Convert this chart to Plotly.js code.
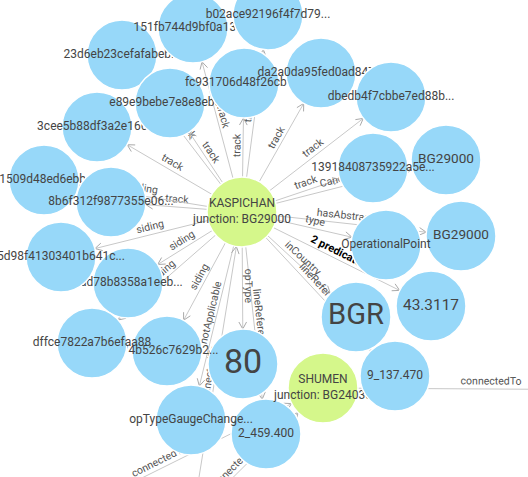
<!DOCTYPE html>
<html>
<head>
<meta charset="utf-8">
<script src="https://cdn.plot.ly/plotly-3.0.1.min.js"></script>
<style>
    html, body { margin: 0; padding: 0; background: #fff; }
    #graph { width: 528px; height: 477px; }
</style>
</head>
<body>
<div id="graph"></div>
<script>
(function () {
    'use strict';

    // nodes in drawing order, later ones cover the earlier ones
    var nodeIds = ['offA', 'offB', 'offC', 'offD',
        'n23d6', 'n151f', 'nb02a', 'n3cee', 'ne89e', 'nfc93', 'nda2a', 'ndbed',
        'bgUpper', 'n1391', 'bgLower', 'opPoint', 'lat', 'bgr',
        'n0150', 'n8b6f', 'nad78', 'n5d98', 'op80', 'ne74b', 'ndffc',
        'km2', 'gaugeChange', 'shumen', 'km9', 'kaspichan'];

    var nodeLabels = ['', '', '', '',
        '23d6eb23cefafabeb...', '151fb744d9bf0a13d...', 'b02ace92196f4f7d79...',
        '3cee5b88df3a2e166...', 'e89e9bebe7e8e8eb0...', 'fc931706d48f26cb9...',
        'da2a0da95fed0ad847...', 'dbedb4f7cbbe7ed88b...',
        'BG29000', '13918408735922a5e...', 'BG29000', 'OperationalPoint', '43.3117', 'BGR',
        '01509d48ed6ebb...', '8b6f312f9877355e06...', 'bad78b8358a1eeb...', '5d98f41303401b641c...',
        '80', 'e74b526c7629b2...', 'dffce7822a7b6efaa88',
        '2_459.400', 'opTypeGaugeChange...', 'SHUMEN<br>junction: BG24030', '9_137.470',
        'KASPICHAN<br>junction: BG29000'];

    var nodeKinds = ['iri', 'iri', 'iri', 'iri',
        'iri', 'iri', 'iri', 'iri', 'iri', 'iri', 'iri', 'iri',
        'literal', 'iri', 'literal', 'iri', 'literal', 'literal',
        'iri', 'iri', 'iri', 'iri', 'literal', 'iri', 'iri',
        'literal', 'iri', 'junction', 'literal', 'junction'];

    // where the force layout left each node (screen pixels, first four are outside the window)
    var nodeX = [188, 1, 150, 659,
        122, 193, 268, 97, 170, 244, 321, 391,
        446, 373, 461, 386, 431, 356,
        44, 111, 128, 61, 243, 167, 92,
        266, 191, 323, 395, 242];
    var nodeY = [545, 548, 560, 390,
        55, 28, 15, 127, 103, 83, 73, 97,
        160, 168, 236, 245, 306, 317,
        180, 202, 283, 257, 364, 351, 343,
        434, 420, 388, 376, 212];

    var edgeFrom = ['kaspichan', 'kaspichan', 'kaspichan', 'kaspichan', 'kaspichan', 'kaspichan',
        'kaspichan', 'kaspichan', 'kaspichan', 'kaspichan', 'kaspichan', 'kaspichan',
        'kaspichan', 'kaspichan', 'kaspichan', 'kaspichan', 'kaspichan', 'kaspichan',
        'kaspichan', 'kaspichan', 'kaspichan', 'kaspichan', 'kaspichan', 'kaspichan',
        'offA', 'offB', 'offC', 'shumen'];
    var edgeTo = ['n23d6', 'n151f', 'nb02a', 'n3cee', 'ne89e', 'nfc93',
        'nda2a', 'ndbed', 'n1391', 'n8b6f', 'bgUpper', 'bgLower',
        'opPoint', 'lat', 'bgr', 'km9', 'km2', 'op80',
        'gaugeChange', 'n0150', 'n5d98', 'nad78', 'ndffc', 'ne74b',
        'kaspichan', 'shumen', 'shumen', 'offD'];
    var edgeLabels = ['track', 'track', 'track', 'track', 'track', 'track',
        'track', 'track', 'track', 'track', 'Canonical', 'hasAbstraction',
        'type', '2 predicates', 'inCountry', 'lineReference', 'lineReference', 'opType',
        'notApplicable', 'siding', 'siding', 'siding', 'siding', 'siding',
        'connectedTo', 'connectedTo', 'connectedTo', 'connectedTo'];

    var RADIUS = 35;
    var FONT = 'Roboto, "Open Sans", sans-serif';
    var fillColors = { iri: '#97d8f9', literal: '#97d8f9', junction: '#d5f78b' };

    var pos = {};
    nodeIds.forEach(function (id, i) {
        pos[id] = { x: nodeX[i], y: nodeY[i] };
    });

    // literal values are scaled to fill the circle
    var ctx = document.createElement('canvas').getContext('2d');
    function labelSize(i) {
        if (nodeKinds[i] !== 'literal') {
            return 12;
        }
        ctx.font = '12px Roboto';
        var w = ctx.measureText(nodeLabels[i]).width;
        return Math.min(34, 12 * 56 / w);
    }

    var shapes = [];
    var arrowX = [];
    var arrowY = [];
    edgeFrom.forEach(function (src, i) {
        var a = pos[src], b = pos[edgeTo[i]];
        var dx = b.x - a.x, dy = b.y - a.y;
        var len = Math.sqrt(dx * dx + dy * dy);
        var ux = dx / len, uy = dy / len;

        // open arrow head sitting on the rim of the target
        var tipX = b.x - ux * RADIUS, tipY = b.y - uy * RADIUS;
        [0.5, -0.5].forEach(function (t, k) {
            var wx = -ux * Math.cos(t) + uy * Math.sin(t);
            var wy = -ux * Math.sin(t) - uy * Math.cos(t);
            if (k === 1) {
                arrowX.push(tipX);
                arrowY.push(tipY);
            }
            arrowX.push(tipX + wx * 8);
            arrowY.push(tipY + wy * 8);
        });
        arrowX.push(null);
        arrowY.push(null);

        // draw left to right so the label reads the right way up
        var p = a, q = b;
        if (b.x < a.x || (b.x === a.x && b.y > a.y)) {
            p = b;
            q = a;
        }
        var angle = Math.atan2(q.y - p.y, q.x - p.x) * 180 / Math.PI;
        var bold = /^\d+ predicates$/.test(edgeLabels[i]);

        shapes.push({
            type: 'line',
            layer: 'below',
            xref: 'x',
            yref: 'y',
            x0: p.x, y0: p.y, x1: q.x, y1: q.y,
            line: { color: '#c8c8c8', width: 1 },
            label: {
                text: edgeLabels[i],
                textangle: angle,
                textposition: 'middle',
                yanchor: 'bottom',
                padding: 2,
                font: {
                    family: FONT,
                    size: bold ? 11 : 10.5,
                    color: bold ? '#000000' : '#555555',
                    weight: bold ? 'bold' : 'normal'
                }
            }
        });
    });

    var traces = [{
        type: 'scatter',
        mode: 'lines',
        x: arrowX,
        y: arrowY,
        line: { color: '#aaaaaa', width: 1 },
        hoverinfo: 'none'
    }];

    nodeIds.forEach(function (id, i) {
        traces.push({
            type: 'scatter',
            mode: 'markers+text',
            x: [nodeX[i]],
            y: [nodeY[i]],
            text: [nodeLabels[i]],
            textposition: 'middle center',
            textfont: { family: FONT, size: labelSize(i), color: '#444444' },
            marker: {
                size: RADIUS * 2,
                color: fillColors[nodeKinds[i]],
                line: { color: '#ffffff', width: 1.5 },
                opacity: 1
            },
            hoverinfo: 'none'
        });
    });

    var layout = {
        width: 528,
        height: 477,
        margin: { l: 0, r: 0, t: 0, b: 0 },
        paper_bgcolor: '#ffffff',
        plot_bgcolor: '#ffffff',
        showlegend: false,
        font: { family: FONT },
        xaxis: { range: [0, 528], visible: false, fixedrange: true },
        yaxis: { range: [477, 0], visible: false, fixedrange: true },
        shapes: shapes
    };

    Plotly.newPlot('graph', traces, layout, { staticPlot: true });
})();
</script>
</body>
</html>
